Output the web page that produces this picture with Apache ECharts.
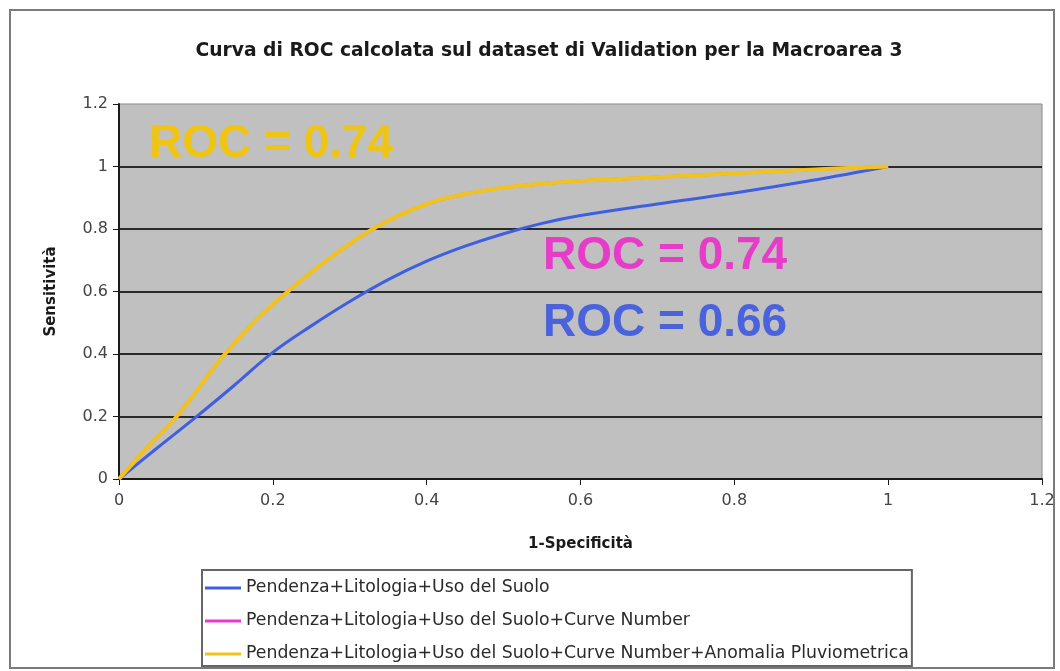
<!DOCTYPE html>
<html>
<head>
<meta charset="utf-8">
<script src="https://cdn.jsdelivr.net/npm/echarts@6/dist/echarts.min.js"></script>
<style>
  html, body { margin: 0; padding: 0; background: #ffffff; }
  #chart { width: 1060px; height: 671px; }
</style>
</head>
<body>
<div id="chart"></div>
<script>
// Chart texts
const chartTitle = 'Curva di ROC calcolata sul dataset di Validation per la Macroarea 3';
const xAxisTitle = '1-Specificità';
const yAxisTitle = 'Sensitività';
const seriesNames = [
  'Pendenza+Litologia+Uso del Suolo',
  'Pendenza+Litologia+Uso del Suolo+Curve Number',
  'Pendenza+Litologia+Uso del Suolo+Curve Number+Anomalia Pluviometrica'
];
const rocLabels = ['ROC = 0.66', 'ROC = 0.74', 'ROC = 0.74'];

// Axis ticks (0 .. 1.2 step 0.2)
const axisMin = 0;
const axisMax = 1.2;
const axisStep = 0.2;

// Curve 1: Pendenza+Litologia+Uso del Suolo
const fpr1 = [0, 0.05, 0.10, 0.15, 0.20, 0.25, 0.30, 0.35, 0.40, 0.45, 0.50, 0.55, 0.60, 0.70, 0.80, 0.90, 1.0];
const tpr1 = [0, 0.10, 0.198, 0.30, 0.405, 0.49, 0.568, 0.638, 0.697, 0.745, 0.785, 0.818, 0.843, 0.880, 0.915, 0.955, 1.0];

// Curve 2: ... +Curve Number
const fpr2 = [0, 0.040, 0.075, 0.135, 0.179, 0.220, 0.278, 0.335, 0.40, 0.45, 0.50, 0.55, 0.60, 0.70, 0.80, 0.90, 1.0];
const tpr2 = [0, 0.110, 0.200, 0.392, 0.511, 0.601, 0.714, 0.807, 0.880, 0.912, 0.932, 0.945, 0.954, 0.966, 0.978, 0.990, 1.0];

// Curve 3: ... +Curve Number+Anomalia Pluviometrica
const fpr3 = [0, 0.040, 0.075, 0.135, 0.179, 0.220, 0.278, 0.335, 0.40, 0.45, 0.50, 0.55, 0.60, 0.70, 0.80, 0.90, 1.0];
const tpr3 = [0, 0.110, 0.200, 0.392, 0.511, 0.601, 0.714, 0.807, 0.880, 0.912, 0.932, 0.945, 0.954, 0.966, 0.978, 0.990, 1.0];

const colors = ['#3f5fe0', '#e83ad0', '#f2c21e'];
const labelColors = ['#4a63dc', '#e63cc8', '#f4c400'];

const zip = (xs, ys) => xs.map((x, i) => [x, ys[i]]);

const chart = echarts.init(document.getElementById('chart'));

const labelFont = 'bold 46px "Liberation Sans", Arial, sans-serif';

chart.setOption({
  animation: false,
  backgroundColor: '#ffffff',
  title: {
    text: chartTitle,
    left: 544,
    textAlign: 'center',
    top: 37,
    textStyle: {
      fontFamily: 'DejaVu Sans',
      fontWeight: 'bold',
      fontSize: 18.7,
      color: '#1a1a1a'
    }
  },
  legend: {
    orient: 'vertical',
    left: 202,
    top: 570,
    padding: [8, 3, 2, 3],
    itemWidth: 36,
    itemHeight: 3,
    itemGap: 13,
    icon: 'rect',
    borderColor: '#666',
    borderWidth: 2,
    backgroundColor: '#ffffff',
    textStyle: {
      fontFamily: 'DejaVu Sans',
      fontSize: 17.3,
      lineHeight: 20,
      color: '#2a2a2a'
    },
    data: seriesNames
  },
  grid: {
    left: 119,
    right: 18,
    top: 104,
    bottom: 192,
    show: true,
    backgroundColor: '#c0c0c0',
    borderColor: '#8a8a8a',
    borderWidth: 1
  },
  xAxis: {
    type: 'value',
    min: axisMin,
    max: axisMax,
    interval: axisStep,
    name: xAxisTitle,
    nameLocation: 'middle',
    nameGap: 58,
    nameTextStyle: {
      fontFamily: 'DejaVu Sans',
      fontWeight: 'bold',
      fontSize: 15,
      color: '#1a1a1a'
    },
    axisLine: { show: true, onZero: false, lineStyle: { color: '#1a1a1a', width: 2 } },
    axisTick: { show: true, length: 6, lineStyle: { color: '#1a1a1a' } },
    axisLabel: {
      margin: 14,
      fontFamily: 'DejaVu Sans',
      fontSize: 16,
      color: '#444',
      formatter: v => String(Math.round(v * 10) / 10)
    },
    splitLine: { show: false }
  },
  yAxis: {
    type: 'value',
    min: axisMin,
    max: axisMax,
    interval: axisStep,
    name: yAxisTitle,
    nameLocation: 'middle',
    nameGap: 60,
    nameRotate: 90,
    nameTextStyle: {
      fontFamily: 'DejaVu Sans',
      fontWeight: 'bold',
      fontSize: 15,
      color: '#1a1a1a'
    },
    axisLine: { show: true, onZero: false, lineStyle: { color: '#1a1a1a', width: 2 } },
    axisTick: { show: true, length: 6, lineStyle: { color: '#1a1a1a' } },
    axisLabel: {
      margin: 11,
      fontFamily: 'DejaVu Sans',
      fontSize: 16,
      color: '#444',
      formatter: v => String(Math.round(v * 10) / 10)
    },
    splitLine: {
      show: true,
      showMaxLine: false,
      lineStyle: { color: '#2a2a2a', width: 2 }
    }
  },
  series: [
    {
      name: seriesNames[0],
      type: 'line',
      data: zip(fpr1, tpr1),
      smooth: 0.4,
      showSymbol: false,
      symbol: 'none',
      z: 3,
      lineStyle: { color: colors[0], width: 3 },
      itemStyle: { color: colors[0] }
    },
    {
      name: seriesNames[1],
      type: 'line',
      data: zip(fpr2, tpr2),
      smooth: 0.4,
      showSymbol: false,
      symbol: 'none',
      z: 4,
      lineStyle: { color: colors[1], width: 3 },
      itemStyle: { color: colors[1] }
    },
    {
      name: seriesNames[2],
      type: 'line',
      data: zip(fpr3, tpr3),
      smooth: 0.4,
      showSymbol: false,
      symbol: 'none',
      z: 5,
      lineStyle: { color: colors[2], width: 4 },
      itemStyle: { color: colors[2] }
    }
  ],
  graphic: [
    // outer chart frame
    {
      type: 'rect',
      z: -1,
      shape: { x: 10, y: 10, width: 1044, height: 658 },
      style: { fill: null, stroke: '#7a7a7a', lineWidth: 2 }
    },
    // area labels for each curve
    {
      type: 'text', x: 149, y: 144, z: 10,
      style: { text: rocLabels[2], font: labelFont, fill: labelColors[2], textVerticalAlign: 'middle', opacity: 0.9 }
    },
    {
      type: 'text', x: 543, y: 256, z: 10,
      style: { text: rocLabels[1], font: labelFont, fill: labelColors[1], textVerticalAlign: 'middle' }
    },
    {
      type: 'text', x: 543, y: 323, z: 10,
      style: { text: rocLabels[0], font: labelFont, fill: labelColors[0], textVerticalAlign: 'middle' }
    }
  ]
});
</script>
</body>
</html>
